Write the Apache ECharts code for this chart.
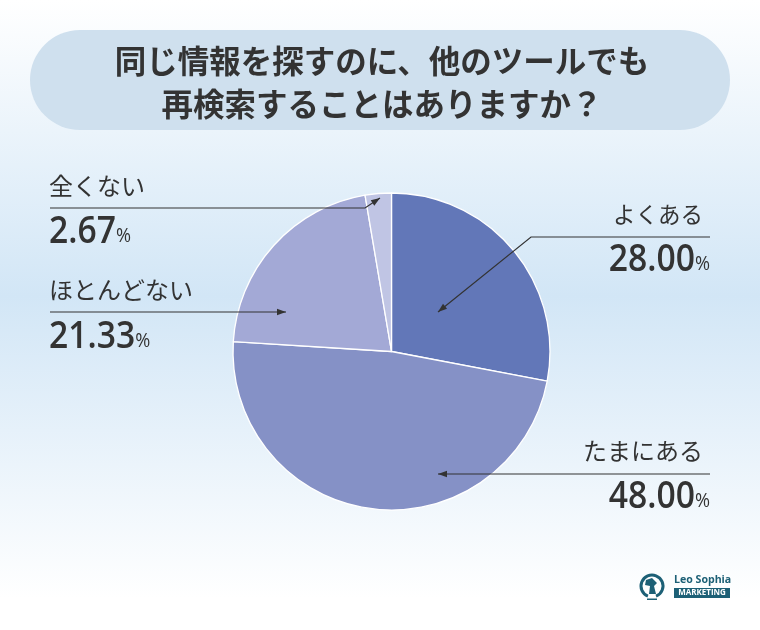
<!DOCTYPE html>
<html><head><meta charset="utf-8">
<style>html,body{margin:0;padding:0;background:#fff}#c{width:760px;height:630px}</style>
<script src="https://cdn.jsdelivr.net/npm/echarts@6/dist/echarts.min.js"></script>
</head><body><div id="c"></div>
<script>
const categories = ['よくある','たまにある','ほとんどない','全くない'];
const values = [28.00,48.00,21.33,2.67];
const colors = ['#6277b8','#8591c6','#a3a9d6','#c0c5e4'];
const titleLines = ['同じ情報を探すのに、他のツールでも','再検索することはありますか？'];
const JP = '"Noto Sans CJK JP",sans-serif';
const INK = '#333333';
const TEAL = '#1d6076';

function arrowHead(x,y,angle){
  const L=9,W=3.2,c=Math.cos(angle),s=Math.sin(angle);
  return {type:'polygon',z:20,shape:{points:[[x,y],[x-L*c+W*s,y-L*s-W*c],[x-L*c-W*s,y-L*s+W*c]]},style:{fill:INK}};
}
function leader(points){
  const n=points.length,a=points[n-2],b=points[n-1];
  return [{type:'polyline',z:20,shape:{points},style:{stroke:INK,lineWidth:1.2,fill:null}},arrowHead(b[0],b[1],Math.atan2(b[1]-a[1],b[0]-a[0]))];
}
function label(i,xName,xVal,yName,yVal,align,size){
  const v=values[i].toFixed(2);
  return [
   {type:'text',z:20,x:xName,y:yName,style:{text:categories[i],font:'400 '+size+'px '+JP,fill:INK,textAlign:align,textVerticalAlign:'middle'}},
   {type:'text',z:20,x:xVal,y:yVal,scaleX:0.91,style:{text:'{n|'+v+'}{p|%}',rich:{n:{fontSize:37,fontWeight:600,fontFamily:'Open Sans',fill:INK},p:{fontSize:20,fontFamily:'Open Sans',fill:INK,padding:[9,0,0,0]}},textAlign:align,textVerticalAlign:'middle'}}
  ];
}
const graphic=[
  {type:'rect',z:5,shape:{x:30,y:30,width:700,height:100,r:50},style:{fill:'#cfe0ee'}},
  {type:'text',z:6,x:382,y:61,style:{text:titleLines[0],font:'700 31.5px '+JP,fill:INK,textAlign:'center',textVerticalAlign:'middle'}},
  {type:'text',z:6,x:382,y:104,style:{text:titleLines[1],font:'700 31.5px '+JP,fill:INK,textAlign:'center',textVerticalAlign:'middle'}},
  ...leader([[710,237],[531,237],[438,312]]),
  ...leader([[710,474],[438,474]]),
  ...leader([[50,312],[286,312]]),
  ...leader([[50,208],[365,208],[380,198]]),
  ...label(0,703,710,214,260,'right',22.5),
  ...label(1,703,710,451,497,'right',24),
  ...label(2,49,49,290,337,'left',24),
  ...label(3,49,49,186,232,'left',24),
  {type:'arc',z:6,shape:{cx:652,cy:586,r:11,startAngle:Math.PI*0.62,endAngle:Math.PI*0.38},style:{fill:'none',stroke:TEAL,lineWidth:3}},
  {type:'polygon',z:6,shape:{points:[[646,580],[652,578],[657,583],[654,586],[656,594],[649,594],[650,586],[645,585]]},style:{fill:TEAL}},
  {type:'rect',z:6,shape:{x:647,y:598.5,width:10,height:1.5},style:{fill:TEAL}},
  {type:'text',z:6,x:674,y:579.5,style:{text:'Leo Sophia',font:'700 10.6px "Open Sans"',fill:TEAL,textVerticalAlign:'middle'}},
  {type:'rect',z:6,shape:{x:674,y:588,width:56,height:10},style:{fill:TEAL}},
  {type:'text',z:7,x:702,y:593.2,style:{text:'MARKETING',font:'700 8px "Open Sans"',fill:'#fff',textAlign:'center',textVerticalAlign:'middle'}}
];
const chart=echarts.init(document.getElementById('c'),null,{renderer:'canvas'});
chart.setOption({
  animation:false,
  backgroundColor:{type:'linear',x:0,y:0,x2:0,y2:1,colorStops:[{offset:0,color:'#ffffff'},{offset:0.47,color:'#d2e6f6'},{offset:0.95,color:'#ffffff'},{offset:1,color:'#ffffff'}]},
  series:[{type:'pie',center:[391.5,351.5],radius:[0,158.5],startAngle:90,clockwise:true,silent:true,
    label:{show:false},labelLine:{show:false},
    itemStyle:{borderColor:'#ffffff',borderWidth:1.3},
    data:categories.map((name,i)=>({name,value:values[i],itemStyle:{color:colors[i]}}))}],
  graphic
});
</script></body></html>
